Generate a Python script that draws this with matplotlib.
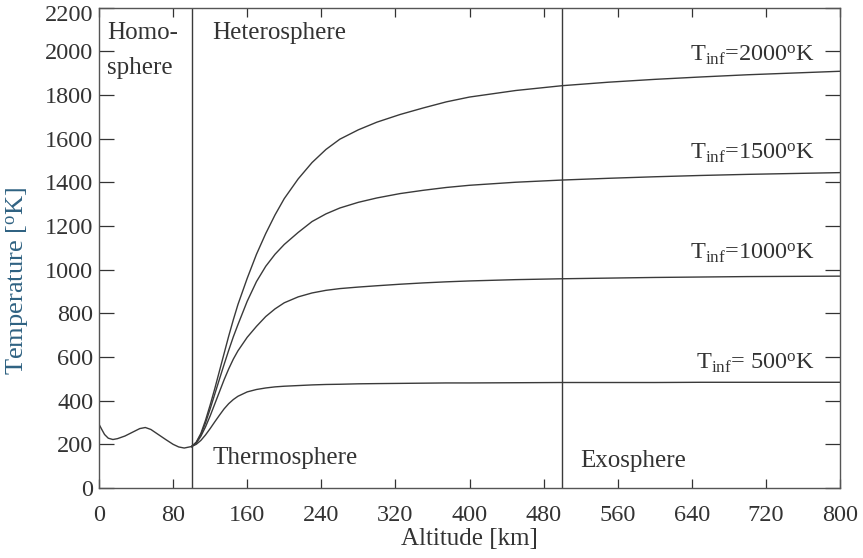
import matplotlib
matplotlib.use("Agg")
import matplotlib.pyplot as plt
from matplotlib.transforms import ScaledTranslation

plt.rcParams['font.family'] = ['Liberation Serif', 'DejaVu Serif']
plt.rcParams['mathtext.fontset'] = 'custom'
plt.rcParams['mathtext.rm'] = 'Liberation Serif'
plt.rcParams['mathtext.it'] = 'Liberation Serif:italic'

# Homosphere profile (0-100 km)
homo_alt = [0, 3, 6, 10, 15, 20, 28, 36, 44, 50, 56, 64, 72, 80, 86, 92, 100]
homo_temp = [292, 268, 245, 228, 222, 226, 238, 255, 272, 277, 268, 245, 222, 200, 188, 183, 190]

# Thermosphere / exosphere profiles (100-800 km)
thermo_alt = [100, 105, 110, 115, 120, 125, 130, 135, 140, 145, 150, 160, 170, 180, 190, 200,
              215, 230, 245, 260, 280, 300, 325, 350, 375, 400, 450, 500, 550, 600, 650, 700, 750, 800]
temp_2000 = [190, 210, 250, 310, 380, 455, 535, 615, 695, 770, 840, 960, 1070, 1165, 1250, 1325,
             1415, 1490, 1550, 1597, 1640, 1675, 1710, 1740, 1768, 1790, 1820, 1842, 1858, 1871, 1882, 1892, 1900, 1908]
temp_1500 = [190, 208, 245, 298, 362, 430, 498, 565, 630, 692, 748, 855, 945, 1015, 1070, 1115,
             1170, 1220, 1255, 1282, 1308, 1328, 1348, 1363, 1376, 1386, 1400, 1410, 1418, 1425, 1431, 1436, 1440, 1444]
temp_1000 = [190, 205, 237, 280, 330, 385, 440, 495, 545, 590, 628, 690, 740, 785, 820, 848,
             875, 893, 905, 913, 920, 926, 933, 939, 944, 948, 954, 958, 961, 964, 966, 968, 969, 970]
temp_500 = [190, 200, 218, 243, 272, 303, 333, 362, 386, 405, 420, 440, 451, 458, 463, 466,
            469, 472, 474, 475, 477, 478, 479, 480, 481, 481, 482, 483, 483, 483, 484, 484, 484, 484]

curve_labels = [r"T$_{\rm inf}$=2000$^{\rm o}$K", r"T$_{\rm inf}$=1500$^{\rm o}$K",
                r"T$_{\rm inf}$=1000$^{\rm o}$K", r"T$_{\rm inf}$= 500$^{\rm o}$K"]
label_temps = [1982, 1533, 1075, 572]

xticks = [0, 80, 160, 240, 320, 400, 480, 560, 640, 720, 800]
yticks = list(range(0, 2201, 200))
boundaries = [100, 500]

line_c = '#3a3a3a'
txt_c = '#333333'

fig = plt.figure(figsize=(8.63, 5.58), dpi=100)
ax = fig.add_axes([99/863, 1-488/558, 741/863, 480.5/558])

ax.plot(homo_alt, homo_temp, color=line_c, lw=1.0)
for t in (temp_2000, temp_1500, temp_1000, temp_500):
    ax.plot(thermo_alt, t, color=line_c, lw=1.0)
for b in boundaries:
    ax.axvline(b, color=line_c, lw=1.0)

for lab, ty in zip(curve_labels, label_temps):
    ax.text(773, ty, lab, ha='right', va='center', fontsize=17.5, color=txt_c)

ax.text(9, 2082, "Homo-", ha='left', va='center', fontsize=18, color=txt_c)
ax.text(9, 1922, "sphere", ha='left', va='center', fontsize=18, color=txt_c)
ax.text(122, 2082, "Heterosphere", ha='left', va='center', fontsize=18, color=txt_c)
ax.text(122, 137, "Thermosphere", ha='left', va='center', fontsize=18, color=txt_c)
ax.text(520, 125, "Exosphere", ha='left', va='center', fontsize=18, color=txt_c)

ax.set_xlim(0, 800)
ax.set_ylim(0, 2200)
ax.set_xticks(xticks)
ax.set_yticks(yticks)
ax.tick_params(axis='x', direction='in', top=True, length=6.5, width=0.9,
               pad=12, labelsize=17.5, colors=txt_c)
ax.tick_params(axis='y', direction='in', right=True, length=10.5, width=0.9,
               pad=4, labelsize=17.5, colors=txt_c)
for s in ax.spines.values():
    s.set_color('#555555')
    s.set_linewidth(1.0)

# nudge the top y tick label down so it stays inside the figure
fig.canvas.draw()
top_lab = ax.get_yticklabels()[-1]
top_lab.set_transform(top_lab.get_transform() + ScaledTranslation(0, -4/72, fig.dpi_scale_trans))

ax.set_xlabel("Altitude [km]", fontsize=18, color=txt_c, labelpad=2)
ax.set_ylabel(r"Temperature [$^{\rm o}$K]", fontsize=19, color='#2f6282')
ax.yaxis.set_label_coords(-0.092, 0.43)

fig.savefig("out.png", dpi=100)
